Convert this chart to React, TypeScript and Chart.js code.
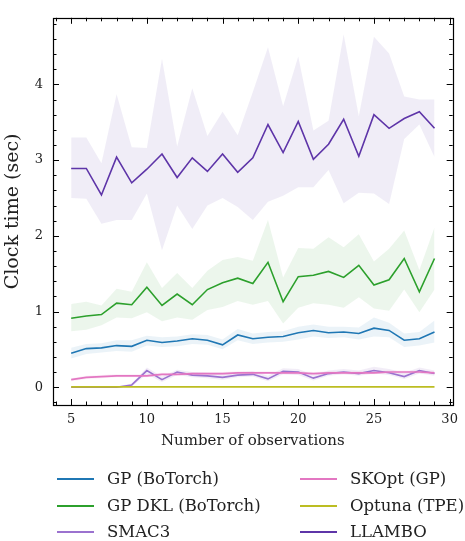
import React, { useEffect, useRef } from 'react';
import { Chart, registerables } from 'chart.js';

Chart.register(...registerables);

const xObs = [5, 6, 7, 8, 9, 10, 11, 12, 13, 14, 15, 16, 17, 18, 19, 20, 21, 22, 23, 24, 25, 26, 27, 28, 29];
const xTickLabels = [5, 10, 15, 20, 25, 30];
const yTickLabels = [0, 1, 2, 3, 4];

const gpMean = [0.45, 0.51, 0.52, 0.55, 0.54, 0.62, 0.59, 0.61, 0.64, 0.62, 0.56, 0.69, 0.64, 0.66, 0.67, 0.72, 0.75, 0.72, 0.73, 0.71, 0.78, 0.75, 0.62, 0.64, 0.73];
const gpUpper = [0.52, 0.57, 0.58, 0.62, 0.62, 0.68, 0.66, 0.67, 0.70, 0.69, 0.63, 0.77, 0.71, 0.73, 0.74, 0.80, 0.83, 0.80, 0.80, 0.79, 0.92, 0.85, 0.71, 0.73, 0.88];
const gpLower = [0.38, 0.44, 0.46, 0.48, 0.47, 0.55, 0.53, 0.54, 0.57, 0.56, 0.50, 0.62, 0.57, 0.59, 0.60, 0.63, 0.67, 0.65, 0.66, 0.63, 0.67, 0.66, 0.53, 0.55, 0.59];

const dklMean = [0.91, 0.94, 0.96, 1.11, 1.09, 1.32, 1.08, 1.23, 1.09, 1.29, 1.38, 1.44, 1.37, 1.65, 1.13, 1.46, 1.48, 1.53, 1.45, 1.61, 1.35, 1.42, 1.70, 1.26, 1.70];
const dklUpper = [1.10, 1.13, 1.08, 1.30, 1.26, 1.65, 1.31, 1.51, 1.31, 1.54, 1.68, 1.72, 1.67, 2.21, 1.45, 1.84, 1.83, 1.98, 1.85, 2.02, 1.66, 1.83, 2.07, 1.55, 2.11];
const dklLower = [0.74, 0.76, 0.82, 0.92, 0.91, 0.99, 0.87, 0.92, 0.89, 1.02, 1.06, 1.14, 1.09, 1.14, 0.84, 1.05, 1.11, 1.09, 1.05, 1.19, 1.04, 1.01, 1.29, 0.99, 1.29];

const smacMean = [0.00, 0.00, 0.00, 0.00, 0.03, 0.22, 0.10, 0.20, 0.16, 0.15, 0.13, 0.16, 0.17, 0.11, 0.21, 0.20, 0.12, 0.18, 0.20, 0.18, 0.22, 0.19, 0.14, 0.22, 0.18];
const smacUpper = [0.01, 0.01, 0.01, 0.01, 0.05, 0.26, 0.14, 0.23, 0.20, 0.19, 0.17, 0.20, 0.21, 0.15, 0.25, 0.24, 0.16, 0.22, 0.24, 0.22, 0.27, 0.24, 0.19, 0.26, 0.22];
const smacLower = [0.00, 0.00, 0.00, 0.00, 0.01, 0.17, 0.07, 0.16, 0.13, 0.12, 0.10, 0.13, 0.14, 0.08, 0.17, 0.16, 0.09, 0.15, 0.17, 0.15, 0.18, 0.16, 0.11, 0.18, 0.15];

const skoptMean = [0.10, 0.13, 0.14, 0.15, 0.15, 0.15, 0.17, 0.17, 0.18, 0.18, 0.18, 0.19, 0.19, 0.19, 0.19, 0.19, 0.18, 0.19, 0.19, 0.19, 0.19, 0.20, 0.20, 0.20, 0.19];
const skoptUpper = [0.12, 0.15, 0.16, 0.17, 0.17, 0.17, 0.19, 0.19, 0.20, 0.20, 0.20, 0.21, 0.21, 0.21, 0.21, 0.21, 0.20, 0.21, 0.21, 0.21, 0.21, 0.22, 0.22, 0.22, 0.21];
const skoptLower = [0.08, 0.11, 0.12, 0.13, 0.13, 0.13, 0.15, 0.15, 0.16, 0.16, 0.16, 0.17, 0.17, 0.17, 0.17, 0.17, 0.16, 0.17, 0.17, 0.17, 0.17, 0.18, 0.18, 0.18, 0.17];

const optunaMean = [0.005, 0.005, 0.005, 0.005, 0.005, 0.005, 0.005, 0.005, 0.005, 0.005, 0.005, 0.005, 0.005, 0.005, 0.005, 0.005, 0.005, 0.005, 0.005, 0.005, 0.005, 0.005, 0.005, 0.005, 0.005];

const llamboMean = [2.89, 2.89, 2.54, 3.04, 2.70, 2.88, 3.08, 2.77, 3.03, 2.85, 3.08, 2.84, 3.03, 3.47, 3.10, 3.51, 3.01, 3.21, 3.54, 3.05, 3.60, 3.42, 3.55, 3.64, 3.42];
const llamboUpper = [3.30, 3.30, 2.96, 3.87, 3.17, 3.16, 4.34, 3.18, 3.95, 3.32, 3.64, 3.33, 3.90, 4.49, 3.71, 4.37, 3.39, 3.52, 4.66, 3.58, 4.63, 4.41, 3.84, 3.80, 3.80];
const llamboLower = [2.50, 2.49, 2.16, 2.21, 2.21, 2.56, 1.81, 2.40, 2.09, 2.40, 2.50, 2.38, 2.21, 2.45, 2.53, 2.64, 2.64, 2.87, 2.43, 2.57, 2.56, 2.42, 3.28, 3.47, 3.04];

const seriesNames = ['GP (BoTorch)', 'GP DKL (BoTorch)', 'SMAC3', 'SKOpt (GP)', 'Optuna (TPE)', 'LLAMBO'];
const seriesColors = ['#1f77b4', '#2ca02c', '#9b72cf', '#e377c2', '#bcbd22', '#5e35a8'];
const bandFills = ['rgba(31,119,180,0.09)', 'rgba(44,160,44,0.09)', 'rgba(148,103,189,0.12)', 'rgba(227,119,194,0.12)', 'rgba(188,189,34,0.1)', 'rgba(120,90,180,0.11)'];
const lineOrder = [2, 2, 3, 2, 1, 2];

const FONT = "'DejaVu Serif', serif";

const pts = (ys: number[]) => xObs.map((x, i) => ({ x, y: ys[i] }));

export default function App() {
  const ref = useRef<HTMLCanvasElement>(null);

  useEffect(() => {
    const canvas = ref.current;
    if (!canvas) return;
    const means = [gpMean, dklMean, smacMean, skoptMean, optunaMean, llamboMean];
    const bands: Array<[number[], number[]] | null> = [
      [gpLower, gpUpper],
      [dklLower, dklUpper],
      [smacLower, smacUpper],
      [skoptLower, skoptUpper],
      null,
      [llamboLower, llamboUpper],
    ];

    const datasets: any[] = [];
    means.forEach((m, i) => {
      datasets.push({
        label: seriesNames[i],
        data: pts(m),
        borderColor: seriesColors[i],
        borderWidth: 1.6,
        pointRadius: 0,
        fill: false,
        tension: 0,
        order: lineOrder[i],
      });
    });
    bands.forEach((b, i) => {
      if (!b) return;
      datasets.push({
        label: seriesNames[i] + ' lo',
        data: pts(b[0]),
        borderWidth: 0,
        borderColor: 'rgba(0,0,0,0)',
        pointRadius: 0,
        fill: false,
        tension: 0,
        order: 10,
      });
      datasets.push({
        label: seriesNames[i] + ' hi',
        data: pts(b[1]),
        borderWidth: 0,
        borderColor: 'rgba(0,0,0,0)',
        backgroundColor: bandFills[i],
        pointRadius: 0,
        fill: '-1',
        tension: 0,
        order: 10,
      });
    });

    const frame = {
      id: 'frameTicks',
      afterDraw(chart: any) {
        const { ctx, chartArea: a, scales } = chart;
        const xs = scales.x;
        const ys = scales.y;
        ctx.save();
        ctx.strokeStyle = '#000';
        ctx.lineWidth = 1;
        ctx.beginPath();
        for (let v = 4; v <= 30; v++) {
          const p = Math.round(xs.getPixelForValue(v)) + 0.5;
          const L = v % 5 === 0 ? 6 : 3.5;
          ctx.moveTo(p, a.bottom);
          ctx.lineTo(p, a.bottom - L);
          ctx.moveTo(p, a.top);
          ctx.lineTo(p, a.top + L);
        }
        for (let i = -1; i <= 24; i++) {
          const v = i * 0.2;
          const p = Math.round(ys.getPixelForValue(v)) + 0.5;
          const L = i % 5 === 0 ? 6 : 3.5;
          ctx.moveTo(a.left, p);
          ctx.lineTo(a.left + L, p);
          ctx.moveTo(a.right, p);
          ctx.lineTo(a.right - L, p);
        }
        ctx.stroke();
        ctx.lineWidth = 1.2;
        ctx.strokeRect(Math.round(a.left) + 0.5, Math.round(a.top) + 0.5, Math.round(a.right - a.left), Math.round(a.bottom - a.top));
        ctx.restore();
      },
    };

    const chart = new Chart(canvas, {
      type: 'line',
      data: { datasets },
      plugins: [frame],
      options: {
        animation: false,
        responsive: false,
        devicePixelRatio: 1,
        layout: { padding: { left: 0, right: 12, top: 7, bottom: 0 } },
        plugins: { legend: { display: false }, tooltip: { enabled: false } },
        scales: {
          x: {
            type: 'linear',
            min: 3.8,
            max: 30.2,
            grid: { display: false, drawTicks: false },
            border: { display: false },
            afterBuildTicks: (s: any) => { s.ticks = xTickLabels.map((v) => ({ value: v })); },
            afterFit: (s: any) => { s.height = 55; },
            ticks: { color: '#222', font: { family: FONT, size: 13 }, padding: 7, maxRotation: 0, autoSkip: false },
            title: { display: true, text: 'Number of observations', color: '#222', font: { family: FONT, size: 15 }, padding: { top: 0, bottom: 10 } },
          },
          y: {
            type: 'linear',
            min: -0.235,
            max: 4.88,
            grid: { display: false, drawTicks: false },
            border: { display: false },
            afterBuildTicks: (s: any) => { s.ticks = yTickLabels.map((v) => ({ value: v })); },
            afterFit: (s: any) => { s.width = 53; },
            ticks: { color: '#222', font: { family: FONT, size: 13 }, padding: 10, autoSkip: false },
            title: { display: true, text: 'Clock time (sec)', color: '#222', font: { family: FONT, size: 19 }, padding: { top: 2, bottom: 0 } },
          },
        },
      },
    });
    return () => chart.destroy();
  }, []);

  const legendRows = [479, 506, 532];
  const colX = [[57, 107], [300, 350]];

  return (
    <div style={{ position: 'fixed', left: 0, top: 0, width: 465, height: 541, background: '#fff' }}>
      <canvas ref={ref} width={465} height={460} style={{ position: 'absolute', left: 0, top: 0, width: 465, height: 460 }} />
      {seriesNames.map((name, i) => {
        const col = Math.floor(i / 3);
        const row = i % 3;
        const cy = legendRows[row];
        return (
          <React.Fragment key={name}>
            <div style={{ position: 'absolute', left: colX[col][0], top: cy - 1, width: 37, height: 2, background: seriesColors[i] }} />
            <div style={{ position: 'absolute', left: colX[col][1], top: cy - 12, height: 24, lineHeight: '24px', fontFamily: FONT, fontSize: 16.5, color: '#222', whiteSpace: 'nowrap' }}>{name}</div>
          </React.Fragment>
        );
      })}
    </div>
  );
}
